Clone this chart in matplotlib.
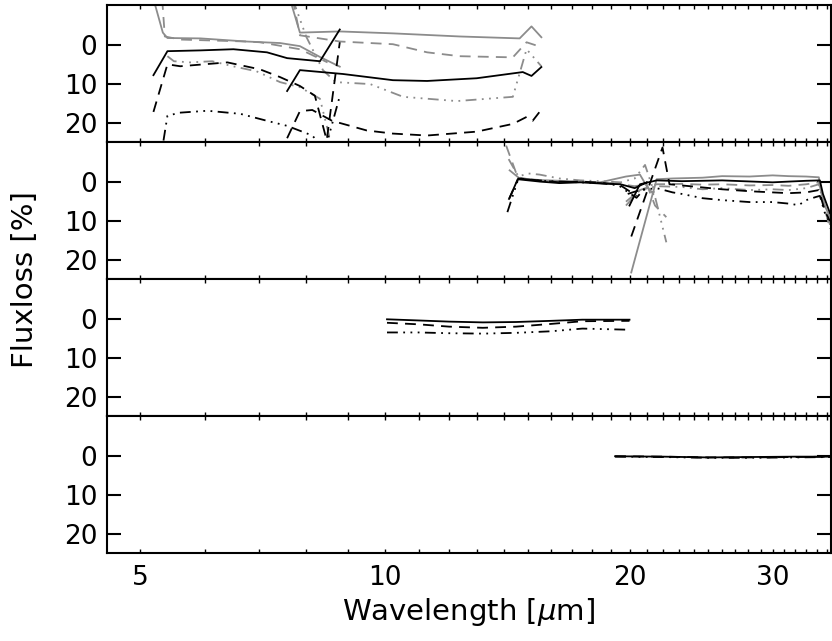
import numpy as np
import matplotlib.pyplot as plt

nan = np.nan

# ---- panel 1 (SL): two orders joined with nan ----
sl_wave_gs = [5.19, 5.33, 5.40, 5.93, 6.75, 7.43, 7.86, 8.32, 8.80, nan,
              7.64, 7.86, 8.80, 10.23, 12.36, 14.65, 15.15, 15.58]
sl_loss_gs = [-12, -3.3, -1.9, -1.8, -1.0, -0.6, 0.2, 3.0, 5.5, nan,
              -12, -3.3, -3.6, -3.1, -2.3, -1.8, -4.9, -2.1]
sl_wave_gd = [5.32, 5.36, 5.60, 6.75, 7.02, 7.86, 8.50, nan,
              7.70, 7.86, 8.80, 10.23, 11.27, 12.36, 14.37, 14.94, 15.50]
sl_loss_gd = [-12, -2.3, -1.5, -1.0, -0.8, 1.0, 4.4, nan,
              -12, -2.6, -1.0, -0.3, 1.8, 2.8, 3.1, -0.8, 0.3]
sl_wave_gdd = [5.40, 5.50, 5.76, 6.13, 6.50, 6.95, 7.43, 7.86, 8.32, 8.60, nan,
               7.70, 8.00, 8.39, 8.70, 9.59, 10.53, 12.26, 14.37, 14.94, 15.58]
sl_loss_gdd = [2.8, 4.1, 4.4, 4.1, 5.4, 6.7, 9.5, 10.8, 13.8, 26, nan,
               -12, -2.3, 6.4, 9.5, 10.0, 13.3, 14.4, 13.3, 1.0, 5.4]
sl_wave_bs = [5.19, 5.40, 5.93, 6.51, 7.16, 7.58, 8.32, 8.80, nan,
              7.58, 7.86, 8.88, 10.23, 11.27, 12.97, 14.78, 15.15, 15.58]
sl_loss_bs = [7.7, 1.5, 1.3, 1.0, 1.8, 3.3, 4.1, -4.1, nan,
              11.8, 6.4, 7.4, 9.0, 9.2, 8.5, 6.9, 7.9, 5.6]
sl_wave_bd = [5.19, 5.40, 5.60, 6.40, 7.02, 7.43, 7.86, 8.20, 8.48, 8.80, nan,
              7.58, 7.86, 8.14, 8.61, 9.50, 10.23, 11.27, 12.97, 14.37, 14.94, 15.20, 15.50]
sl_loss_bd = [17.2, 4.9, 5.4, 4.4, 6.2, 8.2, 10.5, 13.0, 24.5, -0.8, nan,
              24.0, 17.0, 16.7, 19.5, 22.0, 22.8, 23.3, 22.3, 20.3, 18.5, 19.5, 17.2]
sl_wave_bdd = [5.34, 5.40, 5.59, 6.05, 6.64, 7.16, 7.58, 8.14, 8.44, 8.80]
sl_loss_bdd = [24.6, 18.2, 17.4, 16.9, 17.7, 19.5, 20.8, 23.3, 27.0, 13.1]

# ---- panel 2 (LL) ----
ll_wave_gs = [14.24, 14.65, 15.5, 16.4, 17.4, 18.4, 19.8, 20.6, 21.0, 21.4, nan,
              20.1, 21.6, 22.6, 24.6, 26.0, 28.1, 30.0, 31.4, 33.0, 34.2, 34.6, 35.3]
ll_loss_gs = [-3.1, -1.0, -0.6, -0.4, -0.2, 0.0, -1.5, -2.0, 1.0, 3.0, nan,
              23.3, -0.8, -1.0, -1.2, -1.6, -1.5, -1.8, -1.6, -1.5, -1.3, 5.0, 9.0]
ll_wave_gd = [14.1, 14.57, 15.5, 16.4, 17.4, 18.4, 19.5, 20.3, 21.0, 21.5, 22.2, nan,
              19.8, 20.6, 21.6, 23.2, 24.6, 26.0, 28.1, 30.0, 31.4, 33.0, 34.2, 34.8, 35.3]
ll_loss_gd = [-9.5, -1.3, -0.3, 0.0, -0.2, 0.1, 0.5, 1.0, 0.5, 6.0, 9.0, nan,
              6.0, 2.0, 0.5, 0.4, 0.6, 0.5, 0.8, 0.7, 0.9, 0.5, 0.0, 6.0, 11.0]
ll_wave_gdd = [14.2, 14.6, 15.0, 15.5, 16.4, 17.4, 18.4, 19.5, 20.3, 20.9, 21.4, 22.2, nan,
               19.8, 20.6, 21.6, 23.2, 24.6, 26.0, 28.1, 30.0, 31.4, 33.0, 34.2, 34.8, 35.3]
ll_loss_gdd = [-6.0, -1.5, -2.3, -2.0, -1.0, -0.5, -0.3, 0.0, -1.0, -4.5, 2.0, 15.5, nan,
               5.0, 2.0, 1.0, 1.2, 1.8, 1.5, 2.0, 1.8, 2.0, 1.5, 0.5, 7.0, 12.0]
ll_wave_bs = [14.24, 14.57, 15.5, 16.4, 17.4, 18.4, 19.5, 20.3, 21.0, nan,
              20.0, 20.6, 21.6, 23.2, 26.0, 30.0, 33.0, 34.3, 34.6, 35.3]
ll_loss_bs = [4.0, -0.8, -0.2, 0.2, 0.0, 0.3, 0.5, 1.5, 0.0, nan,
              6.0, 0.5, -0.5, -0.3, -0.5, 0.0, -0.4, -0.5, 3.0, 8.0]
ll_wave_bd = [14.2, 14.6, 15.5, 16.4, 17.4, 18.4, 19.4, 19.9, 20.4, nan,
              20.1, 21.96, 22.4, 23.2, 26.0, 28.1, 30.0, 31.4, 33.0, 34.2, 34.8, 35.3]
ll_loss_bd = [4.5, -1.0, -0.5, 0.0, -0.2, 0.1, 0.5, 2.0, 3.5, nan,
              14.0, -9.0, 0.5, 0.8, 1.8, 2.3, 2.6, 2.8, 2.6, 2.0, 7.5, 10.0]
ll_wave_bdd = [14.15, 14.6, 15.5, 16.4, 17.4, 18.4, 19.4, 19.9, 20.4, 21.0, nan,
               19.9, 20.6, 21.6, 22.6, 23.2, 24.6, 26.0, 28.1, 30.0, 31.4, 32.3, 33.0, 33.9, 34.3, 34.8, 35.3]
ll_loss_bdd = [7.7, -1.0, -0.4, -0.2, 0.0, 0.2, 0.8, 2.5, 4.0, 1.0, nan,
               3.0, 2.0, 1.5, 2.6, 3.0, 4.1, 4.6, 5.1, 5.1, 5.5, 5.9, 4.6, 3.8, 3.5, 8.0, 10.5]

# ---- panel 3 (SH) ----
sh_wave = [10.06, 11.0, 12.0, 13.2, 14.5, 16.0, 17.5, 20.0]
sh_loss_bs = [0.0, 0.3, 0.6, 0.8, 0.7, 0.4, 0.1, 0.1]
sh_loss_bd = [0.9, 1.3, 1.9, 2.2, 1.9, 1.2, 0.5, 0.4]
sh_loss_bdd = [3.4, 3.4, 3.6, 3.7, 3.5, 3.1, 2.4, 2.7]

# ---- panel 4 (LH) ----
lh_wave = [19.2, 22.0, 25.0, 28.0, 32.0, 35.4]
lh_loss_bs = [0.0, 0.1, 0.3, 0.2, 0.1, 0.1]
lh_loss_bd = [0.0, 0.1, 0.3, 0.3, 0.2, 0.1]
lh_loss_bdd = [0.1, 0.2, 0.4, 0.4, 0.3, 0.2]

grey = '0.55'
dash = (0, (6, 4))
dash3dot = (0, (6, 3, 1, 3, 1, 3, 1, 3))
sty = {
    'gs': dict(color=grey, ls='-'),
    'gd': dict(color=grey, ls=dash),
    'gdd': dict(color=grey, ls=dash3dot),
    'bs': dict(color='k', ls='-'),
    'bd': dict(color='k', ls=dash),
    'bdd': dict(color='k', ls=dash3dot),
}

panels = [
    [(sl_wave_gs, sl_loss_gs, 'gs'), (sl_wave_gd, sl_loss_gd, 'gd'), (sl_wave_gdd, sl_loss_gdd, 'gdd'),
     (sl_wave_bs, sl_loss_bs, 'bs'), (sl_wave_bd, sl_loss_bd, 'bd'), (sl_wave_bdd, sl_loss_bdd, 'bdd')],
    [(ll_wave_gs, ll_loss_gs, 'gs'), (ll_wave_gd, ll_loss_gd, 'gd'), (ll_wave_gdd, ll_loss_gdd, 'gdd'),
     (ll_wave_bs, ll_loss_bs, 'bs'), (ll_wave_bd, ll_loss_bd, 'bd'), (ll_wave_bdd, ll_loss_bdd, 'bdd')],
    [(sh_wave, sh_loss_bs, 'bs'), (sh_wave, sh_loss_bd, 'bd'), (sh_wave, sh_loss_bdd, 'bdd')],
    [(lh_wave, lh_loss_bs, 'bs'), (lh_wave, lh_loss_bd, 'bd'), (lh_wave, lh_loss_bdd, 'bdd')],
]

plt.rcParams['font.family'] = 'DejaVu Sans'
fig = plt.figure(figsize=(8.32, 6.41), dpi=100)
gs = fig.add_gridspec(4, 1, left=0.1286, right=0.9988, top=0.992, bottom=0.1373, hspace=0)

xticks_minor = np.arange(5, 36)
for i, lines in enumerate(panels):
    ax = fig.add_subplot(gs[i])
    for w, v, k in lines:
        ax.plot(w, v, lw=1.3, **sty[k])
    ax.set_xscale('log')
    ax.set_xlim(4.55, 35.4)
    ax.set_ylim(25, -10.4)
    ax.set_yticks([0, 10, 20])
    ax.set_xticks(xticks_minor, minor=True)
    ax.set_xticks([5, 10, 20, 30])
    ax.tick_params(axis='x', which='both', direction='in', top=True, length=3, width=1)
    ax.tick_params(axis='y', direction='in', right=True, length=10, width=1.5,
                   labelsize=19, pad=7)
    for s in ax.spines.values():
        s.set_linewidth(1.5)
    ax.xaxis.set_minor_formatter(plt.NullFormatter())
    if i < 3:
        ax.set_xticklabels([])
    else:
        ax.set_xticklabels(['5', '10', '20', '30'])
        ax.tick_params(axis='x', labelsize=19, pad=9)
        ax.set_xlabel(r'Wavelength [$\mu$m]', fontsize=21, labelpad=3)

fig.text(0.03, 0.5645, 'Fluxloss [%]', rotation=90, fontsize=21, ha='center', va='center')
fig.savefig('out.png', dpi=100)
